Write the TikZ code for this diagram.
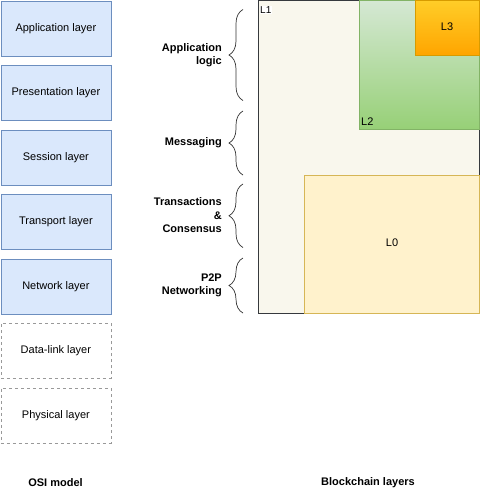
\documentclass[tikz,border=0pt]{standalone}
\usepackage{fontspec}
\setmainfont{Liberation Sans}
\usetikzlibrary{decorations.pathreplacing}
\definecolor{osifill}{HTML}{DAE8FC}
\definecolor{osiline}{HTML}{6C8EBF}
\definecolor{dashline}{HTML}{999999}
\definecolor{lonefill}{HTML}{F9F7ED}
\definecolor{loneline}{HTML}{36393D}
\definecolor{lzerofill}{HTML}{FFF2CC}
\definecolor{lzeroline}{HTML}{D6B656}
\definecolor{ltwotop}{HTML}{D5E8D4}
\definecolor{ltwobot}{HTML}{97D077}
\definecolor{ltwoline}{HTML}{82B366}
\definecolor{lthreetop}{HTML}{FFCD28}
\definecolor{lthreebot}{HTML}{FFA500}
\definecolor{lthreeline}{HTML}{D79B00}
\definecolor{braceline}{HTML}{333333}
\tikzset{
  osibox/.style={draw=osiline, fill=osifill, line width=0.8pt, minimum width=110pt, minimum height=55pt, inner sep=0pt, anchor=north west, font=\fontsize{11}{13}\selectfont},
  osidash/.style={osibox, draw=dashline, fill=white, dashed},
  grouplabel/.style={font=\bfseries\fontsize{11}{13.5}\selectfont, align=right, anchor=east, inner sep=0pt},
  bracepath/.style={draw=braceline, line width=0.7pt, decorate, decoration={brace, amplitude=14pt, aspect=0.5}},
  layerlabel/.style={font=\fontsize{11}{13}\selectfont, inner sep=1pt},
  titlelabel/.style={font=\bfseries\fontsize{11}{13}\selectfont, inner sep=0pt}
}
\begin{document}
\begin{tikzpicture}[x=1pt, y=-1pt]
\useasboundingbox (0,0) rectangle (480,498);
% OSI model
\node[osibox] (app) at (0.5,0.5) {Application layer};
\node[osibox] (pres) at (0.5,65) {Presentation layer};
\node[osibox] (sess) at (0.5,129.5) {Session layer};
\node[osibox] (trans) at (0.5,194) {Transport layer};
\node[osibox] (net) at (0.5,258.5) {Network layer};
\node[osidash] (dl) at (0.5,323) {Data-link layer};
\node[osidash] (phy) at (0.5,387.5) {Physical layer};
\node[titlelabel] (osi) at (55.5,483) {OSI model};
% Blockchain layers
\draw[draw=loneline, fill=lonefill, line width=0.8pt] (258.5,0.5) rectangle (479.5,313);
\node[fill=white, inner sep=0.5pt, anchor=north west, font=\fontsize{10}{12}\selectfont] (lone) at (259.5,6) {L1};
\draw[draw=lzeroline, fill=lzerofill, line width=0.8pt] (304.5,175) rectangle (479.5,313);
\node[layerlabel] (lzero) at (392,243) {L0};
\shade[top color=ltwotop, bottom color=ltwobot] (359.5,0.5) rectangle (479.5,129);
\draw[draw=ltwoline, line width=0.8pt] (359.5,0.5) rectangle (479.5,129);
\node[layerlabel, anchor=south west, inner sep=0pt] (ltwo) at (361,126) {L2};
\shade[top color=lthreetop, bottom color=lthreebot] (415,0.5) rectangle (479.5,55);
\draw[draw=lthreeline, line width=0.8pt] (415,0.5) rectangle (479.5,55);
\node[layerlabel] (lthree) at (447,27) {L3};
% Braces
\coordinate (b1t) at (243,9.5);
\coordinate (b1b) at (243,100.5);
\coordinate (b2t) at (243,111);
\coordinate (b2b) at (243,175);
\coordinate (b3t) at (243,184);
\coordinate (b3b) at (243,247.5);
\coordinate (b4t) at (243,258);
\coordinate (b4b) at (243,313);
\draw[bracepath] (b1b) -- (b1t);
\draw[bracepath] (b2b) -- (b2t);
\draw[bracepath] (b3b) -- (b3t);
\draw[bracepath] (b4b) -- (b4t);
\node[grouplabel] (applogic) at (222,55) {Application\\logic};
\node[grouplabel] (msg) at (222,142.5) {Messaging};
\node[grouplabel] (txc) at (222,215.5) {Transactions\\\&\\Consensus};
\node[grouplabel] (ptp) at (222,285.5) {P2P\\Networking};
\node[titlelabel] (bcl) at (368,483) {Blockchain layers};
\end{tikzpicture}
\end{document}
